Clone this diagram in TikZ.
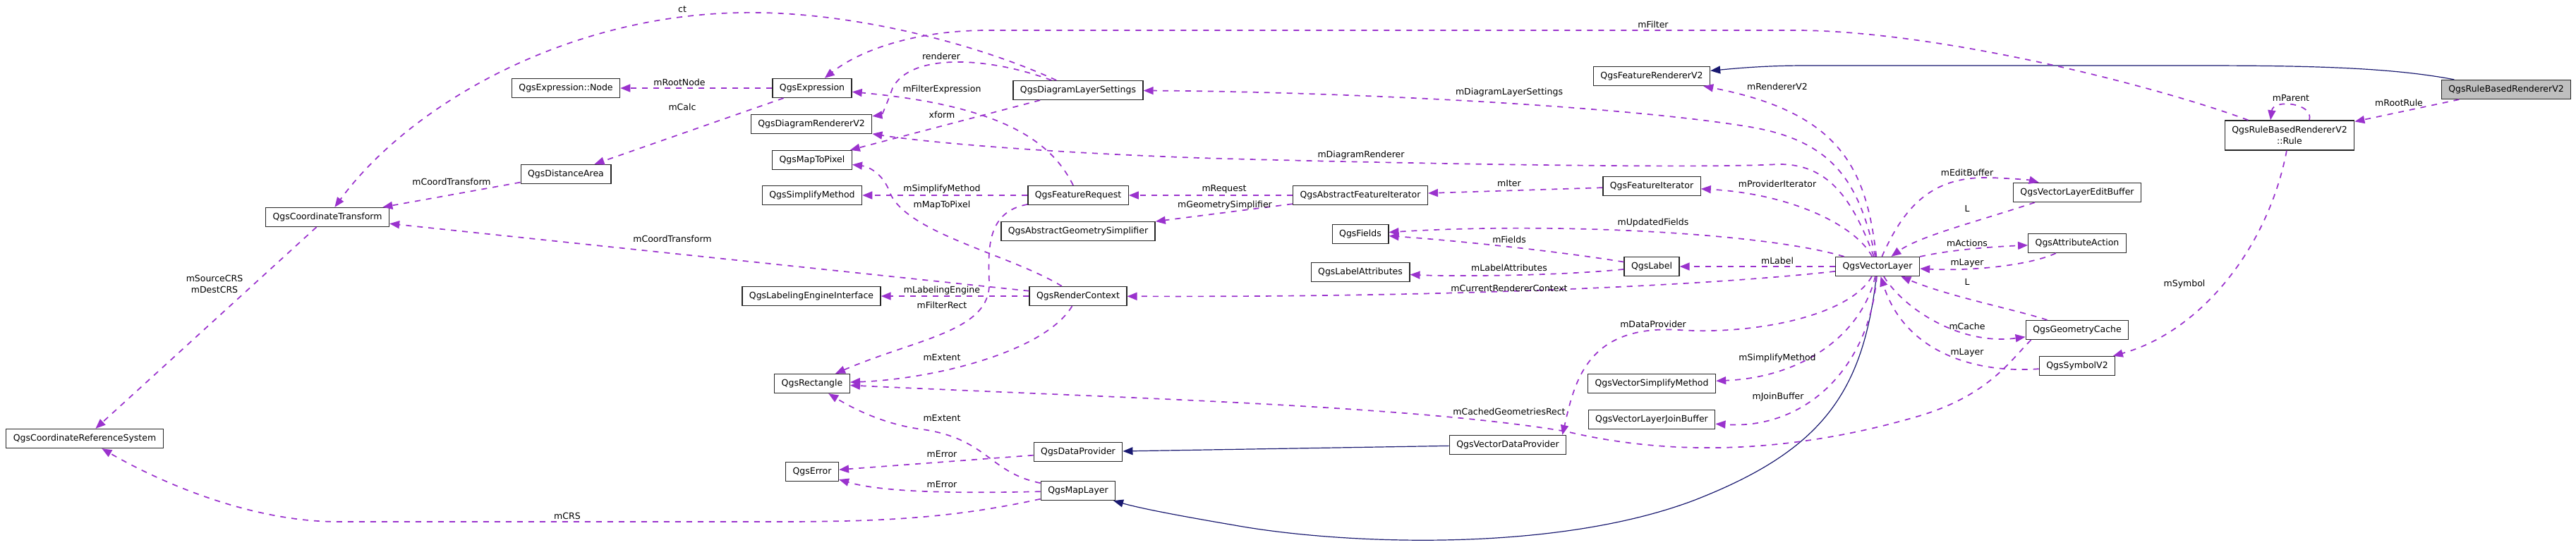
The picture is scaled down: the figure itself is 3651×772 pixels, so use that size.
\documentclass[tikz,border=0pt]{standalone}
\usepackage{fontspec}
\setmainfont{DejaVu Sans}
\usetikzlibrary{arrows.meta}
\definecolor{memcol}{HTML}{9A32CD}
\definecolor{inhcol}{HTML}{191970}
\definecolor{rootfill}{HTML}{BFBFBF}

\begin{document}
\begin{tikzpicture}[x=1pt,y=-1pt,
  font=\fontsize{12.5}{16}\selectfont,
  cls/.style={draw=black!85,line width=1.3pt,fill=white,inner xsep=10pt,inner ysep=0pt,minimum height=27pt,align=center},
  cur/.style={cls,fill=rootfill},
  use/.style={draw=memcol,line width=1.7pt,dash pattern=on 8pt off 8pt,-{Triangle[length=14pt,width=11pt,fill=memcol]}},
  inh/.style={draw=inhcol,line width=1.2pt,-{Triangle[length=14pt,width=11pt,fill=inhcol]}},
  lab/.style={inner sep=0pt,align=center}]
\useasboundingbox (0,0) rectangle (3651,772);

% classes
\node[cur] (rbr) at (3552,127) {QgsRuleBasedRendererV2};
\node[cls] (frv2) at (2341,108) {QgsFeatureRendererV2};
\node[cls,minimum height=42pt] (rule) at (3245,192) {QgsRuleBasedRendererV2\\::Rule};
\node[cls] (vl) at (2661,378) {QgsVectorLayer};
\node[cls] (veb) at (2944,273) {QgsVectorLayerEditBuffer};
\node[cls] (aa) at (2944,345) {QgsAttributeAction};
\node[cls] (gc) at (2944,468) {QgsGeometryCache};
\node[cls] (sym) at (2944,519) {QgsSymbolV2};
\node[cls] (fit) at (2341,264) {QgsFeatureIterator};
\node[cls] (lbl) at (2341,378) {QgsLabel};
\node[cls] (vsm) at (2341,544) {QgsVectorSimplifyMethod};
\node[cls] (vljb) at (2341,595) {QgsVectorLayerJoinBuffer};
\node[cls] (vdp) at (2137,631) {QgsVectorDataProvider};
\node[cls] (afi) at (1928,277) {QgsAbstractFeatureIterator};
\node[cls] (fields) at (1928,332) {QgsFields};
\node[cls] (lattr) at (1928,386) {QgsLabelAttributes};
\node[cls] (dls) at (1528,128) {QgsDiagramLayerSettings};
\node[cls] (fr) at (1528,277) {QgsFeatureRequest};
\node[cls] (ags) at (1528,328) {QgsAbstractGeometrySimplifier};
\node[cls] (rc) at (1528,420) {QgsRenderContext};
\node[cls] (dp) at (1528,641) {QgsDataProvider};
\node[cls] (ml) at (1528,696) {QgsMapLayer};
\node[cls] (expr) at (1151,125) {QgsExpression};
\node[cls] (drv2) at (1150,176) {QgsDiagramRendererV2};
\node[cls] (m2p) at (1151,227) {QgsMapToPixel};
\node[cls] (sm) at (1151,277) {QgsSimplifyMethod};
\node[cls] (lei) at (1150,420) {QgsLabelingEngineInterface};
\node[cls] (rect) at (1151,544) {QgsRectangle};
\node[cls] (err) at (1151,669) {QgsError};
\node[cls] (exnode) at (802,125) {QgsExpression::Node};
\node[cls] (da) at (802,247) {QgsDistanceArea};
\node[cls] (ct) at (464,308) {QgsCoordinateTransform};
\node[cls] (crs) at (120,622) {QgsCoordinateReferenceSystem};

% inheritance
\draw[inh] (rbr) .. controls (3380,94) and (3250,93) .. (3100,93) -- (2560,93) .. controls (2500,93) and (2460,97) .. (frv2);
\draw[inh] (vl) .. controls (2640,560) and (2580,640) .. (2400,710) .. controls (2200,785) and (1900,772) .. (1750,745) .. controls (1680,733) and (1620,722) .. (ml);
\draw[inh] (vdp) -- (dp);

% members
\draw[use] (rbr) -- (rule);
\draw[use] ([xshift=28pt]rule.north) .. controls (3280,146) and (3222,140) .. ([xshift=-27pt]rule.north);
\draw[use] (rule) .. controls (3050,120) and (2750,45) .. (2550,43) -- (1400,43) .. controls (1300,43) and (1220,70) .. (expr);
\draw[use] (rule) .. controls (3215,350) and (3120,470) .. (sym);
\draw[use] (vl) .. controls (2645,240) and (2610,160) .. (frv2);
\draw[use] (vl) .. controls (2635,260) and (2600,200) .. (2480,180) .. controls (2300,150) and (1900,130) .. (dls);
\draw[use] (vl) .. controls (2625,280) and (2590,232) .. (2520,233) .. controls (2400,240) and (1900,230) .. (1700,224) .. controls (1450,215) and (1300,200) .. (drv2);
\draw[use] (vl) .. controls (2630,320) and (2540,275) .. (fit);
\draw[use] (fit) -- (afi);
\draw[use] (afi) -- (fr);
\draw[use] (afi) -- (ags);
\draw[use] (fr) -- (sm);
\draw[use] (fr) .. controls (1490,200) and (1420,150) .. (expr);
\draw[use] (fr) .. controls (1400,300) and (1400,350) .. (1402,400) .. controls (1405,470) and (1300,480) .. (rect);
\draw[use] (dls) .. controls (1380,60) and (1200,15) .. (1050,18) .. controls (800,22) and (580,150) .. (ct);
\draw[use] (dls) .. controls (1400,80) and (1290,75) .. (1265,125) .. controls (1258,145) and (1250,163) .. (drv2);
\draw[use] (dls) -- (m2p);
\draw[use] (expr) -- (exnode);
\draw[use] (expr) -- (da);
\draw[use] (da) -- (ct);
\draw[use] (ct) -- (crs);
\draw[use] (rc) -- (ct);
\draw[use] (rc) .. controls (1430,360) and (1280,330) .. (1260,270) .. controls (1250,245) and (1230,236) .. (m2p);
\draw[use] (rc) -- (lei);
\draw[use] (rc) .. controls (1480,500) and (1320,538) .. (rect);
\draw[use] (vl) .. controls (2450,402) and (2100,422) .. (rc);
\draw[use] (vl) .. controls (2500,330) and (2200,315) .. (fields);
\draw[use] (lbl) .. controls (2200,355) and (2050,340) .. (fields);
\draw[use] (lbl) .. controls (2200,392) and (2050,392) .. (lattr);
\draw[use] (vl) -- (lbl);
\draw[use] (vl) .. controls (2700,290) and (2740,250) .. (2820,252) .. controls (2850,253) and (2875,255) .. (veb);
\draw[use] ([xshift=-60pt]veb.south) .. controls (2800,315) and (2720,335) .. (vl);
\draw[use] (vl) .. controls (2760,355) and (2820,350) .. (aa);
\draw[use] (aa) .. controls (2880,375) and (2800,385) .. (vl);
\draw[use] (gc) .. controls (2860,440) and (2760,420) .. (vl);
\draw[use] (vl) .. controls (2700,440) and (2780,490) .. (gc);
\draw[use] (sym) .. controls (2800,530) and (2700,500) .. (vl);
\draw[use] (vl) .. controls (2620,450) and (2480,475) .. (2380,468) .. controls (2250,460) and (2232,540) .. ([xshift=-6pt]vdp.north east);
\draw[use] (vl) .. controls (2640,470) and (2560,535) .. (vsm);
\draw[use] (vl) .. controls (2650,520) and (2560,610) .. (vljb);
\draw[use] ([xshift=8pt]gc.south west) .. controls (2850,510) and (2820,560) .. (2720,590) .. controls (2550,640) and (2380,650) .. (2220,612) .. controls (2000,575) and (1600,565) .. (rect);
\draw[use] (ml) .. controls (1400,670) and (1400,620) .. (1300,608) .. controls (1250,600) and (1210,580) .. (rect);
\draw[use] (dp) -- (err);
\draw[use] (ml) .. controls (1350,700) and (1250,698) .. (err);
\draw[use] (ml) .. controls (1350,735) and (1250,740) .. (1100,740) -- (480,740) .. controls (350,740) and (220,680) .. (crs);

% edge labels
\foreach \x/\y/\t [count=\i] in {967/13/ct, 963/117/mRootNode, 967/152/mCalc, 640/258/mCoordTransform,
  953/339/mCoordTransform, 804/732/mCRS, 1334/80/renderer, 1335/127/mFilterExpression, 1335/163/xform,
  1335/268/mSimplifyMethod, 1335/291/mMapToPixel, 1735/268/mRequest, 1736/291/mGeometrySimplifier,
  1335/412/mLabelingEngine, 1335/433/mFilterRect, 1335/507/mExtent, 1335/593/mExtent, 1335/644/mError,
  1335/687/mError, 2343/35/mFilter, 2519/123/mRendererV2, 2139/131/mDiagramLayerSettings,
  1929/220/mDiagramRenderer, 2139/260/mIter, 2519/261/mProviderIterator, 2788/245/mEditBuffer,
  2788/296/L, 2343/316/mUpdatedFields, 2139/340/mFields, 2788/345/mActions, 2519/370/mLabel,
  2139/380/mLabelAttributes, 2788/373/mLayer, 2139/409/mCurrentRendererContext, 2788/400/L,
  2343/460/mDataProvider, 2788/463/mCache, 2788/500/mLayer, 2519/508/mSimplifyMethod,
  2520/563/mJoinBuffer, 2139/584/mCachedGeometriesRect, 3247/139/mParent, 3400/146/mRootRule,
  3096/403/mSymbol}
  \node[lab] (lab\i) at (\x,\y) {\t};
\node[lab] (labcrs) at (304,403) {mSourceCRS\\mDestCRS};
\end{tikzpicture}
\end{document}
